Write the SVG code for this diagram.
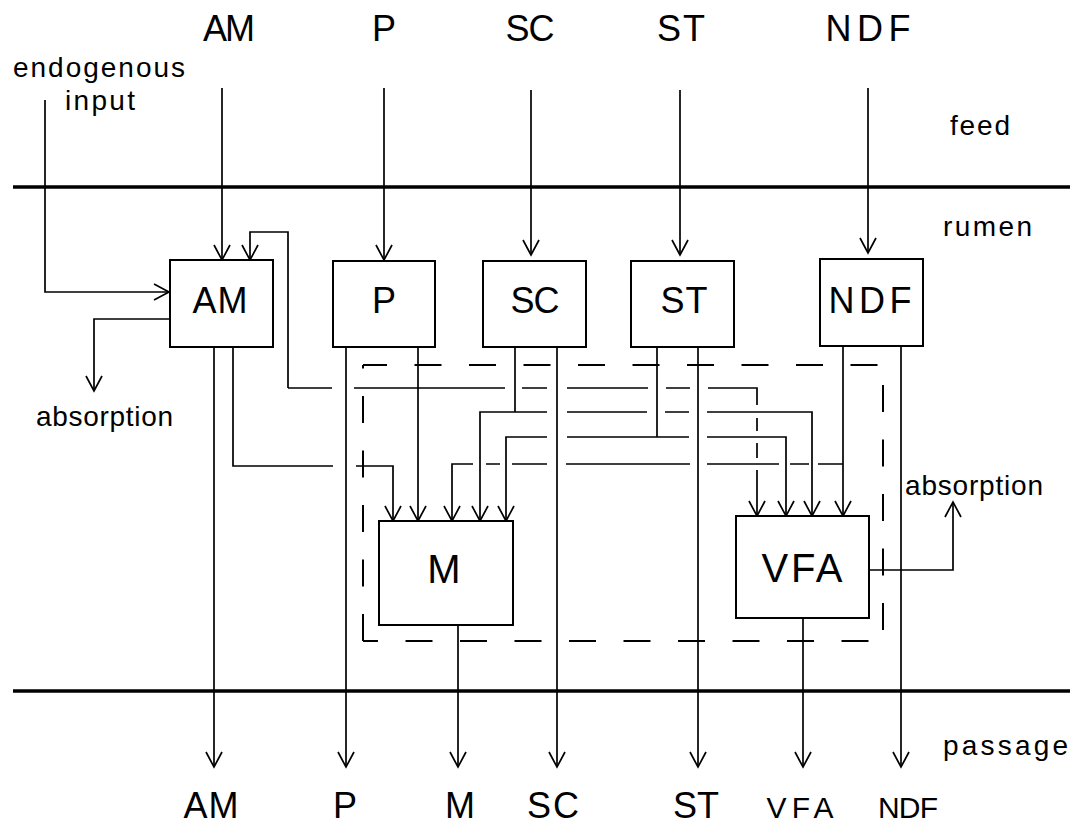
<svg xmlns="http://www.w3.org/2000/svg" width="1077" height="826" viewBox="0 0 1077 826">
<style>
text{font-family:"Liberation Sans",Arial,sans-serif;fill:#000}
.big{font-size:36px;text-anchor:middle}
.lab{font-size:40px;text-anchor:middle}
.sm{font-size:28px}
.c{stroke:#000;stroke-width:1.7;fill:none}
.a{marker-end:url(#ah)}
.box{stroke:#000;stroke-width:2;fill:#fff}
.band{stroke:#000;stroke-width:3.5}
.dash{stroke:#000;stroke-width:2;fill:none;stroke-dasharray:27 27.5}
</style>
<defs>
<marker id="ah" markerUnits="userSpaceOnUse" markerWidth="20" markerHeight="18" viewBox="0 0 20 18" refX="16" refY="9" orient="auto" overflow="visible">
<path d="M1,1 L16,9 L1,17" fill="none" stroke="#000" stroke-width="1.7"/>
</marker>
</defs>
<rect width="1077" height="826" fill="#fff"/>

<g id="bands">
<line class="band" x1="13" y1="187" x2="1070" y2="187"/>
<line class="band" x1="13" y1="691" x2="1070" y2="691"/>
<text class="sm" x="950" y="135" textLength="60" lengthAdjust="spacing">feed</text>
<text class="sm" x="943" y="236" textLength="89" lengthAdjust="spacing">rumen</text>
<text class="sm" x="943" y="755" textLength="125" lengthAdjust="spacing">passage</text>
</g>

<g id="dashed-box">
<line class="dash" x1="363" y1="365" x2="883" y2="365" stroke-dashoffset="3"/>
<line class="dash" x1="363" y1="641" x2="363" y2="365"/>
<line class="dash" x1="363" y1="641" x2="883" y2="641" stroke-dashoffset="12"/>
<line class="dash" x1="883" y1="365" x2="883" y2="641" stroke-dashoffset="34.5"/>
</g>

<g id="top-labels">
<text class="big" x="229" y="41" textLength="52" lengthAdjust="spacing">AM</text>
<text class="big" x="384" y="41">P</text>
<text class="big" x="530" y="41" textLength="49" lengthAdjust="spacing">SC</text>
<text class="big" x="681" y="41" textLength="48" lengthAdjust="spacing">ST</text>
<text class="big" x="868" y="41" textLength="85" lengthAdjust="spacing">NDF</text>
<text class="sm" x="13" y="77" textLength="172" lengthAdjust="spacing">endogenous</text>
<text class="sm" x="65" y="110" textLength="70" lengthAdjust="spacing">input</text>
</g>

<g id="connectors">
<path class="c a" d="M222,88 V260"/>
<path class="c a" d="M384,88 V260"/>
<path class="c a" d="M531,90 V255"/>
<path class="c a" d="M680,90 V255"/>
<path class="c a" d="M868,88 V253"/>
<path class="c a" d="M45,100 V292 H169"/>
<path class="c a" d="M170,319 H94 V391"/>
<path class="c a" d="M288,388 V232 H250 V260"/>
<path class="c" d="M288,388 H332 M354,388 H505 M522,388 H547 M567,388 H648 M666,388 H690 M708,388 H757 V405 M757,418 V431 M757,443 V458"/>
<path class="c a" d="M757,470 V516"/>
<path class="c" d="M515,347 V412"/>
<path class="c a" d="M515,412 H480 V521"/>
<path class="c" d="M515,412 H547 M567,412 H647 M665,412 H689"/>
<path class="c a" d="M707,412 H812 V516"/>
<path class="c" d="M657,347 V437 H567 M657,437 H689"/>
<path class="c a" d="M547,437 H506 V521"/>
<path class="c a" d="M707,437 H786 V516"/>
<path class="c a" d="M843,346 V516"/>
<path class="c" d="M843,464 H818 M809,464 H790 M779,464 H707 M690,464 H566 M547,464 H512 M500,464 H486"/>
<path class="c a" d="M473,464 H452 V521"/>
<path class="c" d="M233,347 V466 H333"/>
<path class="c a" d="M356,466 H393 V521"/>
<path class="c a" d="M418,347 V521"/>
<path class="c a" d="M214,347 V767"/>
<path class="c a" d="M346,347 V767"/>
<path class="c a" d="M458,625 V767"/>
<path class="c a" d="M557,347 V767"/>
<path class="c a" d="M698,347 V767"/>
<path class="c a" d="M803,618 V767"/>
<path class="c a" d="M901,346 V767"/>
<path class="c a" d="M869,570 H953 V502"/>
</g>

<g id="node-AM"><rect class="box" x="170" y="260" width="103" height="87"/><text class="big" x="220" y="313" textLength="55" lengthAdjust="spacing">AM</text></g>
<g id="node-P"><rect class="box" x="333" y="261" width="102" height="86"/><text class="big" x="384" y="313">P</text></g>
<g id="node-SC"><rect class="box" x="483" y="261" width="103" height="86"/><text class="big" x="535" y="313" textLength="49" lengthAdjust="spacing">SC</text></g>
<g id="node-ST"><rect class="box" x="631" y="261" width="103" height="86"/><text class="big" x="684" y="313" textLength="47" lengthAdjust="spacing">ST</text></g>
<g id="node-NDF"><rect class="box" x="820" y="259" width="103" height="87"/><text class="big" x="870" y="313" textLength="83" lengthAdjust="spacing">NDF</text></g>
<g id="node-M"><rect class="box" x="379" y="521" width="134" height="104"/><text class="lab" x="444" y="583">M</text></g>
<g id="node-VFA"><rect class="box" x="736" y="516" width="133" height="102"/><text class="lab" x="802" y="582" textLength="81" lengthAdjust="spacing">VFA</text></g>

<g id="outputs">
<text class="sm" x="36" y="426" textLength="137" lengthAdjust="spacing">absorption</text>
<text class="sm" x="905" y="495" textLength="138" lengthAdjust="spacing">absorption</text>
<text class="big" x="211" y="818" textLength="55" lengthAdjust="spacing">AM</text>
<text class="big" x="345" y="818">P</text>
<text class="big" x="460" y="818">M</text>
<text class="big" x="553" y="818" textLength="52" lengthAdjust="spacing">SC</text>
<text class="big" x="696" y="818" textLength="46" lengthAdjust="spacing">ST</text>
<text class="big" x="800" y="818" style="font-size:30px" textLength="67" lengthAdjust="spacing">VFA</text>
<text class="big" x="908" y="818" style="font-size:30px" textLength="60" lengthAdjust="spacing">NDF</text>
</g>
</svg>
